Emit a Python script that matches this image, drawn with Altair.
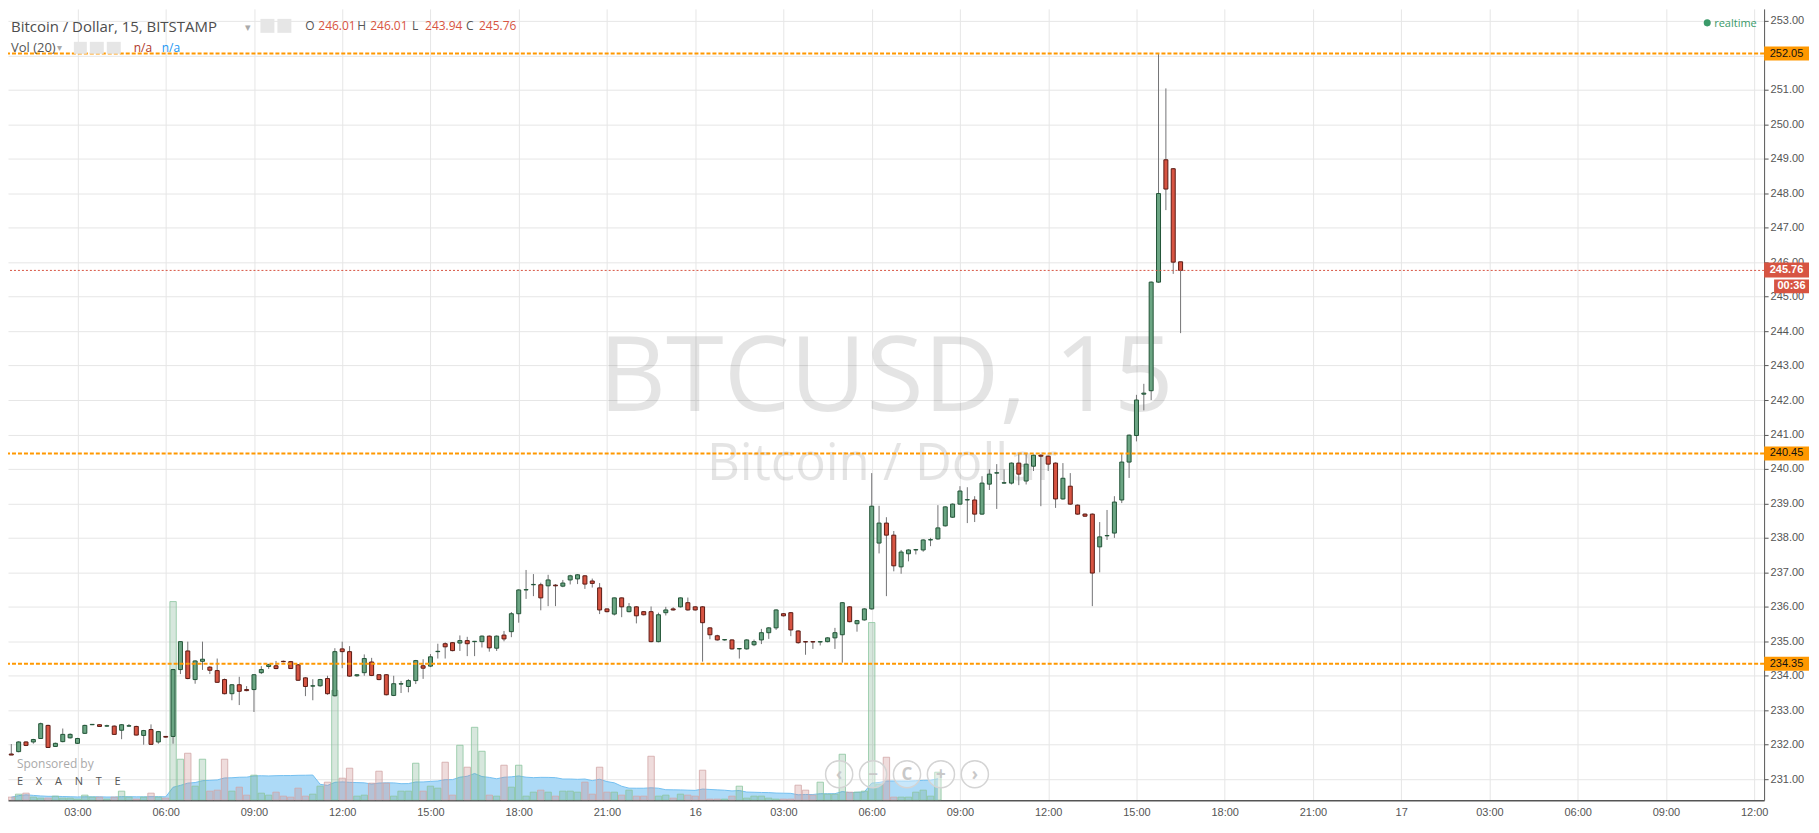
import altair as alt
import pandas as pd

# ---------------- data ----------------
opens = [231.73, 231.80, 232.08, 232.08, 232.18, 232.56, 231.95, 232.09, 232.20, 232.04,
         232.33, 232.58, 232.58, 232.54, 232.54, 232.42, 232.54, 232.53, 232.27, 232.44,
         232.08, 232.24, 232.24, 234.18, 234.72, 233.89, 234.42, 234.25, 234.15, 233.89,
         233.48, 233.74, 233.60, 233.60, 234.09, 234.27, 234.29, 234.42, 234.41, 234.32,
         233.94, 233.70, 233.71, 233.92, 233.42, 234.78, 234.70, 234.00, 234.09, 234.40,
         234.03, 234.03, 233.43, 233.76, 233.69, 233.86, 234.29, 234.28, 234.70, 234.93,
         234.96, 234.95, 235.02, 234.99, 234.99, 235.15, 234.80, 235.18, 235.28, 235.80,
         236.49, 236.64, 236.64, 236.61, 236.63, 236.60, 236.78, 236.81, 236.90, 236.75,
         236.55, 235.94, 235.79, 236.26, 235.86, 236.00, 235.86, 235.86, 234.99, 235.83,
         235.94, 236.00, 236.12, 236.00, 236.00, 235.39, 235.16, 235.04, 235.04, 234.78,
         234.78, 234.90, 235.04, 235.25, 235.39, 235.80, 235.83, 235.30, 234.99, 234.99,
         234.98, 234.99, 235.10, 235.19, 236.00, 235.51, 235.62, 235.94, 237.85, 238.43,
         238.08, 237.16, 237.54, 237.65, 237.65, 237.94, 237.97, 238.35, 238.60, 238.98,
         239.10, 239.10, 238.69, 239.56, 239.88, 239.59, 239.59, 240.17, 239.65, 240.08,
         240.40, 240.37, 240.17, 239.13, 239.50, 238.95, 238.69, 238.69, 237.74, 238.06,
         238.14, 239.10, 240.20, 240.97, 242.17, 242.27, 245.42, 248.97, 248.71, 246.01]
highs = [232.02, 232.10, 232.10, 232.17, 232.64, 232.58, 232.06, 232.47, 232.33, 232.20,
         232.58, 232.60, 232.59, 232.58, 232.56, 232.60, 232.60, 232.55, 232.43, 232.59,
         232.40, 232.25, 234.20, 235.00, 234.99, 234.45, 234.99, 234.28, 234.50, 233.92,
         233.76, 233.97, 233.70, 234.05, 234.28, 234.35, 234.43, 234.44, 234.43, 234.34,
         233.96, 233.90, 233.91, 234.00, 234.80, 234.99, 234.86, 234.05, 234.62, 234.52,
         234.05, 234.05, 234.00, 233.85, 233.90, 234.46, 234.48, 234.63, 234.93, 234.97,
         234.98, 235.17, 235.13, 235.01, 235.17, 235.17, 235.17, 235.30, 235.85, 236.51,
         237.07, 236.95, 236.70, 236.93, 236.66, 236.78, 236.93, 236.95, 236.92, 236.82,
         236.69, 235.95, 236.27, 236.27, 236.11, 236.02, 235.88, 236.01, 235.83, 236.00,
         235.99, 236.27, 236.27, 236.02, 236.02, 235.41, 235.19, 235.06, 235.06, 234.80,
         235.06, 235.05, 235.36, 235.41, 235.93, 235.82, 235.85, 235.32, 235.00, 235.00,
         235.00, 235.12, 235.39, 236.14, 236.02, 235.62, 235.96, 239.88, 238.93, 238.60,
         238.20, 237.65, 237.67, 237.68, 237.96, 238.00, 238.95, 238.92, 239.00, 239.50,
         239.47, 239.21, 239.79, 239.99, 240.14, 239.99, 240.19, 240.46, 240.46, 240.42,
         240.42, 240.39, 240.19, 240.17, 239.88, 238.97, 238.71, 238.71, 238.46, 238.81,
         239.21, 240.43, 241.00, 242.15, 242.47, 245.44, 252.05, 251.04, 248.73, 246.01]
lows = [231.70, 231.78, 231.96, 232.03, 232.17, 231.92, 231.94, 232.07, 232.18, 232.02,
        232.31, 232.57, 232.52, 232.52, 232.29, 232.16, 232.52, 232.27, 232.00, 232.00,
        232.03, 232.21, 232.03, 234.05, 233.90, 233.77, 234.17, 234.05, 233.80, 233.46,
        233.29, 233.15, 233.55, 232.95, 234.05, 234.20, 234.19, 234.39, 234.20, 233.85,
        233.41, 233.29, 233.68, 233.45, 233.40, 234.22, 233.97, 233.97, 234.00, 233.99,
        233.87, 233.43, 233.41, 233.50, 233.52, 233.76, 233.91, 234.25, 234.50, 234.50,
        234.71, 234.72, 234.57, 234.57, 234.82, 234.70, 234.72, 235.00, 235.12, 235.54,
        236.23, 236.31, 235.90, 236.02, 236.02, 236.57, 236.65, 236.66, 236.52, 236.56,
        235.79, 235.84, 235.75, 235.70, 235.84, 235.52, 235.75, 234.97, 234.97, 235.75,
        235.89, 235.98, 235.89, 235.89, 234.41, 235.06, 235.02, 235.02, 234.76, 234.50,
        234.76, 234.86, 234.92, 235.07, 235.33, 235.72, 235.15, 234.93, 234.61, 234.78,
        234.88, 234.97, 234.78, 234.38, 235.55, 235.28, 235.60, 235.92, 237.55, 236.31,
        237.03, 236.96, 237.32, 237.52, 237.60, 237.76, 237.95, 238.33, 238.58, 238.96,
        238.43, 238.46, 238.67, 239.39, 238.84, 239.57, 239.55, 239.53, 239.55, 239.94,
        238.92, 239.94, 238.87, 239.11, 238.96, 238.67, 238.61, 236.02, 237.00, 237.94,
        238.00, 239.01, 239.74, 240.80, 241.70, 242.00, 245.40, 247.51, 245.66, 243.94]
closes = [231.70, 232.08, 231.98, 232.15, 232.61, 231.92, 232.04, 232.30, 232.30, 232.18,
          232.56, 232.59, 232.53, 232.55, 232.30, 232.58, 232.55, 232.28, 232.41, 232.01,
          232.38, 232.22, 234.18, 234.99, 233.92, 234.43, 234.48, 234.16, 233.81, 233.48,
          233.74, 233.55, 233.57, 234.03, 234.18, 234.32, 234.21, 234.41, 234.21, 233.87,
          233.69, 233.71, 233.89, 233.48, 234.70, 234.70, 233.99, 234.03, 234.50, 234.01,
          233.89, 233.45, 233.77, 233.77, 233.86, 234.44, 234.22, 234.55, 234.71, 234.84,
          234.73, 235.02, 234.93, 235.00, 235.15, 234.81, 235.15, 235.07, 235.80, 236.49,
          236.50, 236.65, 236.26, 236.78, 236.61, 236.69, 236.90, 236.93, 236.66, 236.68,
          235.91, 235.86, 236.26, 236.00, 236.00, 235.74, 235.77, 234.99, 235.77, 235.91,
          235.91, 236.26, 235.91, 235.91, 235.54, 235.19, 235.04, 235.05, 234.78, 234.79,
          235.04, 234.99, 235.25, 235.39, 235.91, 235.74, 235.33, 234.96, 234.98, 234.98,
          234.99, 235.10, 235.25, 236.12, 235.57, 235.60, 235.94, 238.92, 238.43, 238.08,
          237.19, 237.59, 237.65, 237.66, 237.94, 237.95, 238.29, 238.90, 238.98, 239.36,
          239.11, 238.69, 239.59, 239.85, 239.89, 239.60, 240.17, 239.85, 240.14, 240.40,
          240.37, 240.14, 239.13, 239.73, 238.98, 238.69, 238.63, 236.98, 238.03, 238.07,
          239.04, 240.20, 240.98, 242.00, 242.20, 245.42, 247.99, 248.12, 246.00, 245.76]
# volume (chart units), only shown up to ~08:15 on the 16th
volumes = [3, 6, 7, 3, 2, 2, 4, 2, 2, 1, 5, 3, 3, 1, 3, 9, 3, 1, 3, 7,
           3, 2, 199, 41, 47, 14, 41, 9, 10, 41, 9, 13, 5, 25, 7, 5, 8, 4, 3, 12,
           4, 6, 14, 18, 110, 22, 32, 4, 5, 17, 29, 17, 4, 9, 9, 37, 9, 14, 12, 38,
           5, 55, 33, 73, 49, 5, 4, 35, 13, 35, 4, 8, 10, 8, 4, 9, 9, 8, 18, 6,
           33, 8, 8, 5, 10, 4, 4, 44, 4, 5, 2, 6, 5, 4, 30, 1, 1, 1, 4, 14,
           2, 4, 4, 2, 1, 1, 1, 15, 10, 5, 18, 6, 6, 46, 8, 8, 9, 178, 16, 43,
           3, 3, 3, 8, 10, 4, 28]

first_hour = 0.75      # first candle 00:45 on the 15th
step_hours = 0.25      # 15-minute candles
levels = [252.05, 240.45, 234.35]
last_price = 245.76
countdown = "00:36"
price_ticks = list(range(231, 254))
time_ticks = list(range(3, 61, 3))

symbol_big = "BTCUSD, 15"
symbol_name = "Bitcoin / Dollar"
title_text = "Bitcoin / Dollar, 15, BITSTAMP"
ohlc_labels = ["O", "H", "L", "C"]
ohlc_values = ["246.01", "246.01", "243.94", "245.76"]

# ---------------- frames ----------------
n = len(opens)
hours = [first_hour + step_hours * i for i in range(n)]
dirs = ["up" if c >= o else "down" for o, c in zip(opens, closes)]
candles = pd.DataFrame({"t": hours, "o": opens, "h": highs, "l": lows, "c": closes, "dir": dirs})
vol = pd.DataFrame({"t": hours[:len(volumes)], "v": volumes, "dir": dirs[:len(volumes)]})

W, H = 1760, 793
UP, DOWN = "#6ba583", "#d75442"
ORANGE = "#ff9800"
FONT = "Open Sans"
AXFONT = "Liberation Sans"

x_enc = alt.X(
    "t:Q",
    scale=alt.Scale(domain=[0.808, 60.167], nice=False, zero=False),
    axis=alt.Axis(
        values=time_ticks, title=None, grid=True, gridColor="#e6e6e6", ticks=False,
        domainColor="#555555", domainWidth=1.5, labelFont=AXFONT, labelFontSize=11,
        labelColor="#555555", labelPadding=6, labelOverlap=False, labelFlush=False,
        labelExpr="datum.value % 24 == 0 ? '' + (15 + datum.value / 24) : "
                  "((datum.value % 24) < 10 ? '0' : '') + (datum.value % 24) + ':00'",
    ),
)
y_scale = alt.Scale(domain=[230.392, 253.347], nice=False, zero=False)
y_axis = alt.Axis(
    orient="right", values=price_ticks, format=".2f", title=None, grid=True,
    gridColor="#e6e6e6", tickColor="#555555", tickSize=4, domainColor="#555555",
    labelFont=AXFONT, labelFontSize=11, labelColor="#555555", labelPadding=2,
)


def py(field):
    return alt.Y(field, scale=y_scale, axis=y_axis)


one = pd.DataFrame({"k": [0]})


def txt(s, x, y, size, color, font=FONT, align="left", weight="normal", opacity=1.0):
    return alt.Chart(pd.DataFrame({"s": [s]})).mark_text(
        align=align, baseline="alphabetic", font=font, fontSize=size, color=color,
        fontWeight=weight, opacity=opacity,
    ).encode(x=alt.value(x), y=alt.value(y), text="s:N")


def box(x1, x2, y1, y2, color):
    return alt.Chart(one).mark_rect(color=color).encode(
        x=alt.value(x1), x2=alt.value(x2), y=alt.value(y1), y2=alt.value(y2))


# ---------------- watermark ----------------
wm1 = txt(symbol_big, 880, 403, 105, "#000000", align="center", opacity=0.1)
wm2 = txt(symbol_name, 876, 472, 51, "#000000", align="center", opacity=0.1)

# ---------------- volume ----------------
vol_y = alt.Y("v:Q", scale=alt.Scale(domain=[0, H]), axis=None)
vol_area = alt.Chart(vol).transform_window(
    ma="mean(v)", frame=[-19, 0], sort=[alt.SortField("t")]
).mark_area(
    color="#a9d8f7", opacity=0.95, clip=True,
    line={"color": "#74c0f0", "strokeWidth": 1},
).encode(x=x_enc, y=alt.Y("ma:Q", scale=alt.Scale(domain=[0, H]), axis=None))
vol_bars = alt.Chart(vol).mark_bar(size=6.4, strokeWidth=1, clip=True).encode(
    x=x_enc, y=vol_y,
    color=alt.condition("datum.dir == 'up'", alt.value("#6ba583"), alt.value("#c98a8a")),
    fillOpacity=alt.condition("datum.dir == 'up'", alt.value(0.27), alt.value(0.3)),
    stroke=alt.condition("datum.dir == 'up'", alt.value("#8cc59e"), alt.value("#d2a6a6")),
    strokeOpacity=alt.value(0.8),
)
vol_layer = alt.layer(vol_area, vol_bars)

# ---------------- price ----------------
wicks = alt.Chart(candles).mark_rule(color="#737375", strokeWidth=1, clip=True).encode(
    x=x_enc, y=py("l:Q"), y2="h:Q")
bodies = alt.Chart(candles).mark_bar(size=4, strokeWidth=1, clip=True).encode(
    x=x_enc, y=py("o:Q"), y2="c:Q",
    color=alt.condition("datum.dir == 'up'", alt.value(UP), alt.value(DOWN)),
    stroke=alt.condition("datum.dir == 'up'", alt.value("#225437"), alt.value("#5b1a13")),
)
lev = pd.DataFrame({"p": levels})
level_lines = alt.Chart(lev).mark_rule(color=ORANGE, strokeWidth=2, strokeDash=[4, 2]).encode(
    y=py("p:Q"))
lastdf = pd.DataFrame({"p": [last_price], "cd": [countdown]})
last_line = alt.Chart(lastdf).mark_rule(color=DOWN, strokeWidth=1, strokeDash=[2, 2]).encode(
    y=py("p:Q"))
level_boxes = alt.Chart(lev).mark_rect(color=ORANGE, yOffset=-7, y2Offset=7).encode(
    y=py("p:Q"), y2="p:Q", x=alt.value(W), x2=alt.value(W + 45))
level_text = alt.Chart(lev).mark_text(
    align="center", baseline="middle", font=AXFONT, fontSize=11, color="#111111"
).encode(y=py("p:Q"), x=alt.value(W + 22.5), text=alt.Text("p:Q", format=".2f"))
last_box = alt.Chart(lastdf).mark_rect(color=DOWN, yOffset=-8, y2Offset=7).encode(
    y=py("p:Q"), y2="p:Q", x=alt.value(W), x2=alt.value(W + 45))
last_text = alt.Chart(lastdf).mark_text(
    align="center", baseline="middle", font=AXFONT, fontSize=11, fontWeight="bold", color="white"
).encode(y=py("p:Q"), x=alt.value(W + 22.5), text=alt.Text("p:Q", format=".2f"))
cd_box = alt.Chart(lastdf).mark_rect(color=DOWN, yOffset=9, y2Offset=23).encode(
    y=py("p:Q"), y2="p:Q", x=alt.value(W + 10), x2=alt.value(W + 45))
cd_text = alt.Chart(lastdf).mark_text(
    align="center", baseline="middle", font=AXFONT, fontSize=11, fontWeight="bold",
    color="white", yOffset=16
).encode(y=py("p:Q"), x=alt.value(W + 27.5), text="cd:N")

price_layer = alt.layer(wicks, bodies, level_lines, last_line, level_boxes, level_text,
                        last_box, last_text, cd_box, cd_text)

# ---------------- header / overlays ----------------
overlays = [
    txt(title_text, 3, 23, 15, "#4d4d4d"),
    txt("▾", 238, 22, 11, "#aaaaaa"),
    box(253, 267, 10, 24, "#e6e6e6"),
    box(270, 284, 10, 24, "#e6e6e6"),
]
ohlc_x = [298, 350, 405, 459]
for lab, val, xx in zip(ohlc_labels, ohlc_values, ohlc_x):
    overlays.append(txt(lab, xx, 21, 12, "#555555"))
    overlays.append(txt(val, xx + 13, 21, 12, DOWN))
overlays += [
    txt("Vol (20)", 3, 43, 13, "#555555"),
    txt("▾", 49, 42, 10, "#aaaaaa"),
    box(66, 79, 33, 45, "#e6e6e6"),
    box(82, 96, 33, 45, "#e6e6e6"),
    box(99, 113, 33, 45, "#e6e6e6"),
    txt("n/a", 126, 43, 12, "#b0392b"),
    txt("n/a", 154, 43, 12, "#2196f3"),
    alt.Chart(one).mark_point(shape="circle", size=50, filled=True, color="#3a9a69", opacity=1).encode(
        x=alt.value(1703), y=alt.value(14)),
    txt("realtime", 1710, 18, 11, "#3a9a69"),
    txt("Sponsored by", 9, 761, 12, "#aaaaaa"),
    txt("E\u2003\u2009X\u2003\u2009A\u2003\u2009N\u2003\u2009T\u2003\u2009E", 9, 778, 11, "#555555"),
]
btn_x = [833, 867, 901, 935, 969]
btn_sym = ["‹", "−", "C", "+", "›"]
for bx, sym in zip(btn_x, btn_sym):
    overlays.append(alt.Chart(one).mark_point(
        shape="circle", size=740, filled=True, fill="white", fillOpacity=0.35,
        stroke="#d4d4d4", strokeWidth=1.5, strokeOpacity=1).encode(
        x=alt.value(bx), y=alt.value(767)))
    overlays.append(txt(sym, bx, 773, 17, "#c8c8c8", align="center", weight="bold"))

chart = alt.layer(wm1, wm2, vol_layer, price_layer, *overlays).resolve_scale(
    y="independent"
).properties(
    width=W, height=H,
    padding={"left": 0, "top": 0, "right": 47, "bottom": 19},
    autosize=alt.AutoSizeParams(type="none"),
    background="white",
).configure_view(stroke=None)

chart.save("out.html", embed_options={"renderer": "svg", "actions": False})
